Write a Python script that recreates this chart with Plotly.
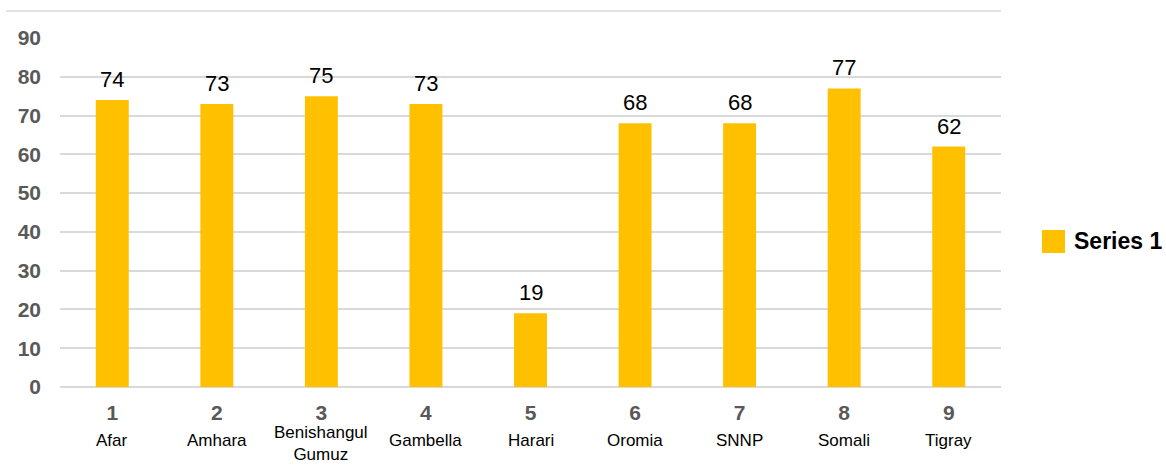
import plotly.graph_objects as go

regions = ["Afar", "Amhara", "Benishangul<br>Gumuz", "Gambella", "Harari", "Oromia", "SNNP", "Somali", "Tigray"]
numbers = ["1", "2", "3", "4", "5", "6", "7", "8", "9"]
values = [74, 73, 75, 73, 19, 68, 68, 77, 62]
series_name = "Series 1"
y_ticks = [0, 10, 20, 30, 40, 50, 60, 70, 80, 90]

FONT = "Arial, Liberation Sans, sans-serif"
BAR = "#FFC000"
GRID = "#D9D9D9"
GRAY = "#595959"

L, R, T, B = 60, 165, 38, 79
pw = 1166 - L - R
ph = 466 - T - B

def px_to_paper_x(px):
    return (px - L) / pw

def px_to_paper_y(py):
    return (466 - B - py) / ph

fig = go.Figure()
fig.add_trace(go.Bar(
    x=list(range(len(numbers))), y=values, name=series_name,
    marker=dict(color=BAR, line=dict(width=0)),
    showlegend=False,
))

annotations = []
# data labels
for i, v in enumerate(values):
    annotations.append(dict(
        x=i, xref="x", y=v, yref="y", yanchor="bottom", yshift=6,
        text=str(v), showarrow=False,
        font=dict(family=FONT, size=22, color="#000000"),
    ))
# region names under tick numbers
for i, r in enumerate(regions):
    n = len(r.split("<br>"))
    annotations.append(dict(
        x=i, xref="x", y=px_to_paper_y(440 + (n - 1) * 4), yref="paper", yanchor="middle",
        text=r, showarrow=False, borderpad=0,
        font=dict(family=FONT, size=17, color="#000000"),
    ))
# legend
annotations.append(dict(
    x=px_to_paper_x(1072), xref="paper", y=px_to_paper_y(241), yref="paper",
    text="<b>" + series_name + "</b>",
    showarrow=False, xanchor="left", yanchor="middle",
    font=dict(family=FONT, size=23, color="#000000"),
))

shapes = [
    dict(type="line", xref="paper", yref="paper",
         x0=px_to_paper_x(6), x1=1.0, y0=px_to_paper_y(11), y1=px_to_paper_y(11),
         line=dict(color=GRID, width=1.5)),
    dict(type="rect", xref="paper", yref="paper",
         x0=px_to_paper_x(1042), x1=px_to_paper_x(1065),
         y0=px_to_paper_y(253), y1=px_to_paper_y(230),
         fillcolor=BAR, line=dict(width=0)),
]

fig.update_layout(
    width=1166, height=466,
    margin=dict(l=L, r=R, t=T, b=B),
    paper_bgcolor="white", plot_bgcolor="white",
    bargap=0.685,
    font=dict(family=FONT),
    annotations=annotations, shapes=shapes,
    showlegend=False,
    xaxis=dict(
        range=[-0.5, len(numbers) - 0.5],
        tickvals=list(range(len(numbers))), ticktext=numbers,
        showgrid=False, zeroline=False, showline=False,
        ticks="", tickfont=dict(family=FONT, size=21, color=GRAY, weight="bold"),
        ticklabelstandoff=11,
    ),
    yaxis=dict(
        range=[0, 90], tickvals=y_ticks, showgrid=True, gridcolor=GRID, gridwidth=1.5,
        zeroline=True, zerolinecolor=GRID, zerolinewidth=1.5, showline=False,
        ticks="", tickfont=dict(family=FONT, size=21, color=GRAY, weight="bold"),
        ticklabelstandoff=18,
    ),
)

fig.write_html("out.html")
